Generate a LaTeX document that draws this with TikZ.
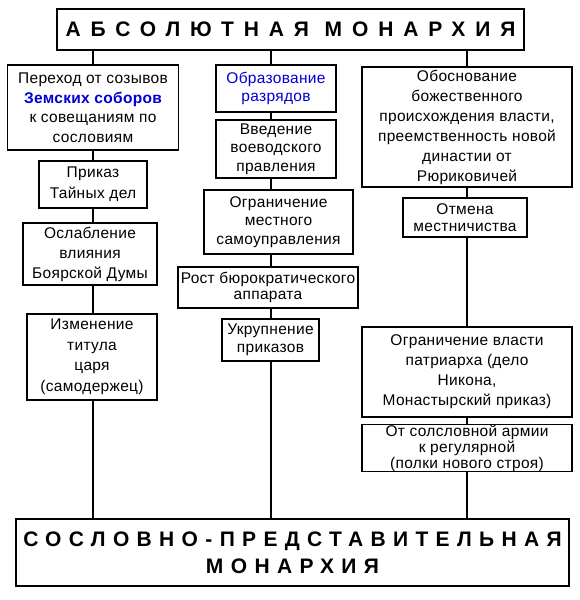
\documentclass[tikz,border=0pt]{standalone}
\usepackage{fontspec}
\setmainfont{Liberation Sans}
\definecolor{rankblue}{RGB}{0,0,210}

\begin{document}
\begin{tikzpicture}[x=1pt, y=-1pt,
    block/.style={draw, rectangle, line width=1.2pt, align=center, inner sep=0pt, font=\fontsize{15.5}{#1}\selectfont\addfontfeature{LetterSpace=2}},
    block/.default=18.5,
    heading/.style={draw, rectangle, line width=1.2pt, align=center, inner sep=0pt, font=\fontsize{21}{27}\selectfont\bfseries}]
    \useasboundingbox (0,0) rectangle (580,600);

    % Draw the two forms of monarchy
    \node (absolute) at (290.5, 29.5) [heading, minimum width=467pt, minimum height=41pt] {\addfontfeature{LetterSpace=47}АБСОЛЮТНАЯ МОНАРХИЯ};
    \node (estate) at (292.5, 552.5) [heading, minimum width=553pt, minimum height=67pt] {\addfontfeature{LetterSpace=35}СОСЛОВНО-ПРЕДСТАВИТЕЛЬНАЯ\\\addfontfeature{LetterSpace=35}МОНАРХИЯ};

    % Column lines
    \coordinate (leftcol) at (93, 0);
    \coordinate (midcol) at (271, 0);
    \coordinate (rightcol) at (467, 0);

    % Draw left column
    \node (zemsky) at (93, 107.5) [block=19.5, minimum width=171pt, minimum height=85pt] {Переход от созывов\\\textcolor{rankblue}{\bfseries Земских соборов}\\к совещаниям по\\сословиям};
    \node (secret) at (93, 184.5) [block=21, minimum width=108pt, minimum height=47pt] {Приказ\\Тайных дел};
    \node (duma) at (90, 254) [block=20, minimum width=134pt, minimum height=62pt] {Ослабление\\влияния\\Боярской Думы};
    \node (tsartitle) at (92, 357) [block=20.5, minimum width=130pt, minimum height=86pt] {Изменение\\титула\\царя\\(самодержец)};

    % Draw middle column
    \node (ranks) at (276, 88.5) [block, minimum width=120pt, minimum height=47pt] {\textcolor{rankblue}{Образование}\\\textcolor{rankblue}{разрядов}};
    \node (voevoda) at (276, 149) [block, minimum width=120pt, minimum height=58pt] {Введение\\воеводского\\правления};
    \node (selfgov) at (278.5, 222) [block, minimum width=149pt, minimum height=64pt] {Ограничение\\местного\\самоуправления};
    \node (bureau) at (268, 287.5) [block=16, minimum width=180pt, minimum height=41pt] {Рост бюрократического\\аппарата};
    \node (prikazy) at (270.5, 340) [block, minimum width=97pt, minimum height=42pt] {Укрупнение\\приказов};

    % Draw right column
    \node (divine) at (467, 127) [block=20, minimum width=210pt, minimum height=120pt] {Обоснование\\божественного\\происхождения власти,\\преемственность новой\\династии от\\Рюриковичей};
    \node (mestnich) at (465, 217.5) [block=17, minimum width=124pt, minimum height=39pt] {Отмена\\местничиства};
    \node (patriarch) at (467, 372) [block=20, minimum width=210pt, minimum height=90pt] {Ограничение власти\\патриарха (дело\\Никона,\\Монастырский приказ)};
    \node (army) at (467, 448) [block=16, minimum width=210pt, minimum height=44pt] {От солсловной армии\\к регулярной\\(полки нового строя)};

    % Draw lines
    \draw[line width=1.2pt] (absolute.south -| leftcol) -- (zemsky.north -| leftcol);
    \draw[line width=1.2pt] (zemsky.south -| leftcol) -- (secret.north -| leftcol);
    \draw[line width=1.2pt] (secret.south -| leftcol) -- (duma.north -| leftcol);
    \draw[line width=1.2pt] (duma.south -| leftcol) -- (tsartitle.north -| leftcol);
    \draw[line width=1.2pt] (tsartitle.south -| leftcol) -- (estate.north -| leftcol);

    \draw[line width=1.2pt] (absolute.south -| midcol) -- (ranks.north -| midcol);
    \draw[line width=1.2pt] (ranks.south -| midcol) -- (voevoda.north -| midcol);
    \draw[line width=1.2pt] (voevoda.south -| midcol) -- (selfgov.north -| midcol);
    \draw[line width=1.2pt] (selfgov.south -| midcol) -- (bureau.north -| midcol);
    \draw[line width=1.2pt] (bureau.south -| midcol) -- (prikazy.north -| midcol);
    \draw[line width=1.2pt] (prikazy.south -| midcol) -- (estate.north -| midcol);

    \draw[line width=1.2pt] (absolute.south -| rightcol) -- (divine.north -| rightcol);
    \draw[line width=1.2pt] (divine.south -| rightcol) -- (mestnich.north -| rightcol);
    \draw[line width=1.2pt] (mestnich.south -| rightcol) -- (patriarch.north -| rightcol);
    \draw[line width=1.2pt] (patriarch.south -| rightcol) -- (army.north -| rightcol);
    \draw[line width=1.2pt] (army.south -| rightcol) -- (estate.north -| rightcol);
\end{tikzpicture}
\end{document}
